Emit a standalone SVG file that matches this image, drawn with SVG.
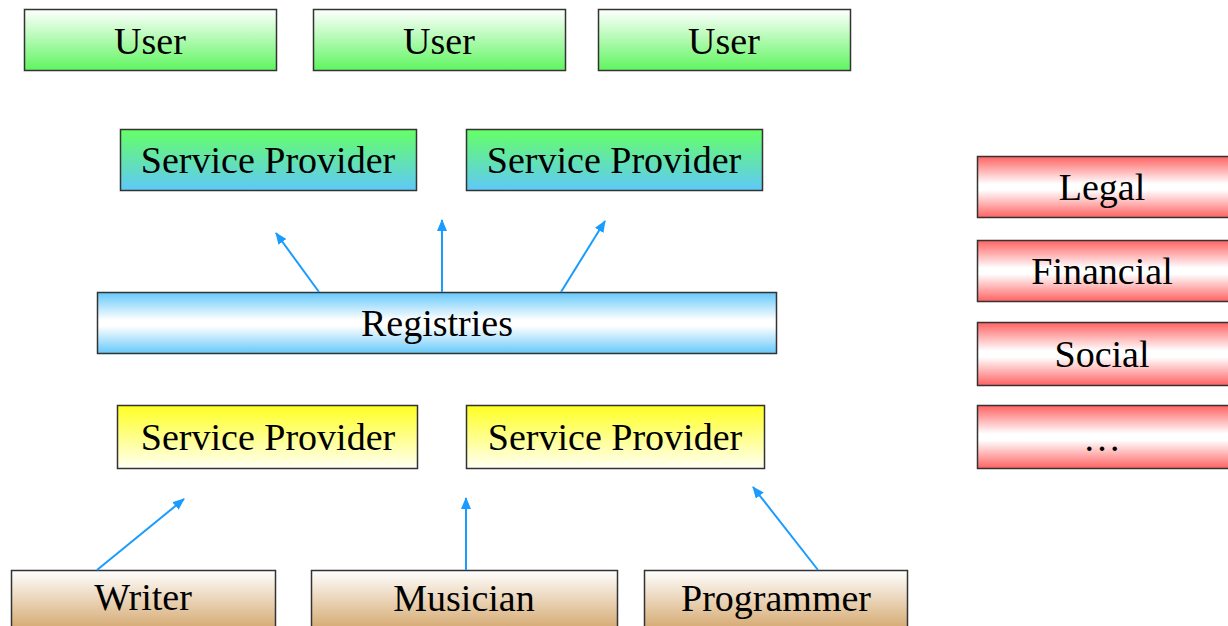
<svg xmlns="http://www.w3.org/2000/svg" width="1228" height="626" viewBox="0 0 1228 626">
  <defs>
    <linearGradient id="gUser" x1="0" y1="0" x2="0" y2="1">
      <stop offset="0" stop-color="#ffffff"/>
      <stop offset="1" stop-color="#5ff55f"/>
    </linearGradient>
    <linearGradient id="gSpTop" x1="0" y1="0" x2="0" y2="1">
      <stop offset="0" stop-color="#66ff66"/>
      <stop offset="1" stop-color="#5fc8f8"/>
    </linearGradient>
    <linearGradient id="gReg" x1="0" y1="0" x2="0" y2="1">
      <stop offset="0" stop-color="#66c8fa"/>
      <stop offset="0.45" stop-color="#ffffff"/>
      <stop offset="0.55" stop-color="#ffffff"/>
      <stop offset="1" stop-color="#66c8fa"/>
    </linearGradient>
    <linearGradient id="gSpBot" x1="0" y1="0" x2="0" y2="1">
      <stop offset="0" stop-color="#ffff22"/>
      <stop offset="1" stop-color="#fffff4"/>
    </linearGradient>
    <linearGradient id="gRed" x1="0" y1="0" x2="0" y2="1">
      <stop offset="0" stop-color="#ff6262"/>
      <stop offset="0.45" stop-color="#ffffff"/>
      <stop offset="0.55" stop-color="#ffffff"/>
      <stop offset="1" stop-color="#ff6262"/>
    </linearGradient>
    <linearGradient id="gBrown" x1="0" y1="0" x2="0" y2="1">
      <stop offset="0" stop-color="#ffffff"/>
      <stop offset="1" stop-color="#d2a468"/>
    </linearGradient>
    <marker id="arrow" viewBox="0 0 12 10" refX="11" refY="5" markerWidth="12" markerHeight="10" markerUnits="userSpaceOnUse" orient="auto">
      <path d="M0,0 L12,5 L0,10 Z" fill="#1a9cff"/>
    </marker>
  </defs>
  <style>
    .box { stroke: #333333; stroke-width: 1.5; }
    .lbl { font-family: "Liberation Serif", "Times New Roman", serif; font-size: 38px; fill: #000000; text-anchor: middle; }
    .conn { stroke: #1a9cff; stroke-width: 2; fill: none; marker-end: url(#arrow); }
  </style>

  <rect width="1228" height="626" fill="#ffffff"/>

  <!-- top row: users -->
  <g id="user1"><rect class="box" x="24.5" y="9.5" width="252" height="61" fill="url(#gUser)"/><text class="lbl" x="150" y="54">User</text></g>
  <g id="user2"><rect class="box" x="313.5" y="9.5" width="252" height="61" fill="url(#gUser)"/><text class="lbl" x="439" y="54">User</text></g>
  <g id="user3"><rect class="box" x="598.5" y="9.5" width="252" height="61" fill="url(#gUser)"/><text class="lbl" x="724" y="54">User</text></g>

  <!-- consuming service providers -->
  <g id="sp-top-1"><rect class="box" x="120.5" y="129.5" width="296" height="61" fill="url(#gSpTop)"/><text class="lbl" x="268" y="173">Service Provider</text></g>
  <g id="sp-top-2"><rect class="box" x="466.5" y="129.5" width="296" height="61" fill="url(#gSpTop)"/><text class="lbl" x="614" y="173">Service Provider</text></g>

  <!-- registries bar -->
  <g id="registries"><rect class="box" x="97.5" y="292.5" width="679" height="61" fill="url(#gReg)"/><text class="lbl" x="437" y="336">Registries</text></g>

  <!-- publishing service providers -->
  <g id="sp-bot-1"><rect class="box" x="117.5" y="405.5" width="300" height="63" fill="url(#gSpBot)"/><text class="lbl" x="268" y="450">Service Provider</text></g>
  <g id="sp-bot-2"><rect class="box" x="466.5" y="405.5" width="298" height="63" fill="url(#gSpBot)"/><text class="lbl" x="615" y="450">Service Provider</text></g>

  <!-- creators -->
  <g id="writer"><rect class="box" x="11.5" y="570.5" width="264" height="62" fill="url(#gBrown)"/><text class="lbl" x="143" y="610">Writer</text></g>
  <g id="musician"><rect class="box" x="311.5" y="570.5" width="306" height="62" fill="url(#gBrown)"/><text class="lbl" x="464" y="611">Musician</text></g>
  <g id="programmer"><rect class="box" x="644.5" y="570.5" width="263" height="62" fill="url(#gBrown)"/><text class="lbl" x="776" y="611">Programmer</text></g>

  <!-- cross-cutting concerns -->
  <g id="legal"><rect class="box" x="977.5" y="156.5" width="254" height="61" fill="url(#gRed)"/><text class="lbl" x="1102" y="200">Legal</text></g>
  <g id="financial"><rect class="box" x="977.5" y="240.5" width="254" height="61" fill="url(#gRed)"/><text class="lbl" x="1102" y="284">Financial</text></g>
  <g id="social"><rect class="box" x="977.5" y="322.5" width="254" height="63" fill="url(#gRed)"/><text class="lbl" x="1102" y="367">Social</text></g>
  <g id="more"><rect class="box" x="977.5" y="405.5" width="254" height="63" fill="url(#gRed)"/><text class="lbl" x="1102" y="451">…</text></g>

  <!-- connectors -->
  <g id="connectors">
    <line class="conn" x1="319" y1="292" x2="276" y2="233"/>
    <line class="conn" x1="442" y1="292" x2="442" y2="220"/>
    <line class="conn" x1="561" y1="292" x2="605" y2="221"/>
    <line class="conn" x1="97" y1="570" x2="184" y2="499"/>
    <line class="conn" x1="466" y1="570" x2="466" y2="498"/>
    <line class="conn" x1="818" y1="570" x2="753" y2="487"/>
  </g>
</svg>
